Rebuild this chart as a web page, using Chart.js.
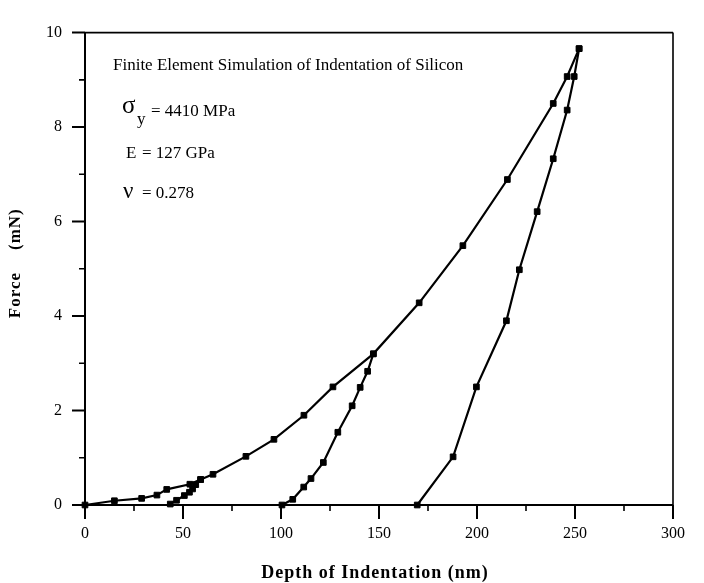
<!DOCTYPE html>
<html><head><meta charset="utf-8">
<script src="https://cdn.jsdelivr.net/npm/chart.js@4/dist/chart.umd.min.js"></script>
<style>html,body{margin:0;padding:0;background:#fff}#wrap{width:704px;height:583px;position:relative}</style>
</head><body><div id="wrap"><canvas id="c" width="704" height="583"></canvas></div>
<script>
// ---- data ----
const xMajorTicks = [0, 50, 100, 150, 200, 250, 300];
const xMinorTicks = [25, 75, 125, 175, 225, 275];
const yMajorTicks = [0, 2, 4, 6, 8, 10];
const yMinorTicks = [1, 3, 5, 7, 9];

const loadDepth = [0, 15, 28.9, 36.7, 41.7, 53.5, 59, 65.3, 82.1, 96.4, 111.7, 126.5, 147.1, 170.5, 192.8, 215.5, 238.9, 246, 252.1];
const loadForce = [0, 0.09, 0.14, 0.21, 0.33, 0.44, 0.54, 0.65, 1.03, 1.39, 1.90, 2.50, 3.20, 4.28, 5.49, 6.89, 8.50, 9.07, 9.66];

const unload1Depth = [59, 56.5, 54.9, 53.3, 50.7, 46.7, 43.5];
const unload1Force = [0.54, 0.43, 0.34, 0.27, 0.20, 0.10, 0.02];

const unload2Depth = [147.1, 144.2, 140.4, 136.3, 129, 121.6, 115.3, 111.6, 106, 100.5];
const unload2Force = [3.20, 2.83, 2.49, 2.10, 1.54, 0.90, 0.56, 0.38, 0.12, 0.0];

const unload3Depth = [252.1, 249.6, 246, 238.9, 230.7, 221.6, 215, 199.7, 187.8, 169.5];
const unload3Force = [9.66, 9.07, 8.36, 7.33, 6.21, 4.98, 3.90, 2.50, 1.02, 0.0];

const xTitle = 'Depth of Indentation (nm)';
const yTitleA = 'Force';
const yTitleB = '(mN)';
const plotNote = 'Finite Element Simulation of Indentation of Silicon';

function pts(xs, ys) { return xs.map((x, i) => ({x: x, y: ys[i]})); }

const serif = '"Liberation Serif", "Times New Roman", serif';

function series(xs, ys) {
  return {
    data: pts(xs, ys),
    showLine: true,
    borderColor: '#000',
    backgroundColor: '#000',
    borderWidth: 2.2,
    pointStyle: 'rect',
    pointRadius: 4,
    pointBorderWidth: 1,
    pointBackgroundColor: '#000',
    pointBorderColor: '#000',
    tension: 0
  };
}

const decor = {
  id: 'decor',
  afterDraw(chart) {
    const ctx = chart.ctx;
    const xs = chart.scales.x, ys = chart.scales.y;
    const a = chart.chartArea;
    ctx.save();
    ctx.strokeStyle = '#000';
    ctx.lineCap = 'butt';
    // frame
    ctx.lineWidth = 2;
    ctx.beginPath();
    ctx.moveTo(a.left, a.top); ctx.lineTo(a.left, a.bottom);
    ctx.moveTo(a.left, a.bottom); ctx.lineTo(a.right, a.bottom);
    ctx.stroke();
    ctx.lineWidth = 1.6;
    ctx.beginPath();
    ctx.moveTo(a.left, a.top); ctx.lineTo(a.right, a.top);
    ctx.moveTo(a.right, a.top); ctx.lineTo(a.right, a.bottom);
    ctx.stroke();
    // ticks
    ctx.lineWidth = 2;
    ctx.beginPath();
    xMajorTicks.forEach(v => { const p = xs.getPixelForValue(v); ctx.moveTo(p, a.bottom); ctx.lineTo(p, a.bottom + 14); });
    yMajorTicks.forEach(v => { const p = ys.getPixelForValue(v); ctx.moveTo(a.left, p); ctx.lineTo(a.left - 13, p); });
    ctx.stroke();
    ctx.lineWidth = 1.6;
    ctx.beginPath();
    xMinorTicks.forEach(v => { const p = xs.getPixelForValue(v); ctx.moveTo(p, a.bottom); ctx.lineTo(p, a.bottom + 6); });
    yMinorTicks.forEach(v => { const p = ys.getPixelForValue(v); ctx.moveTo(a.left, p); ctx.lineTo(a.left - 6, p); });
    ctx.stroke();

    ctx.fillStyle = '#000';
    // axis titles
    ctx.textBaseline = 'middle';
    ctx.textAlign = 'center';
    ctx.font = 'bold 18px ' + serif;
    if ('letterSpacing' in ctx) ctx.letterSpacing = '1px';
    ctx.fillText(xTitle, a.left + 290, 573);
    ctx.save();
    ctx.translate(16, 264);
    ctx.rotate(-Math.PI / 2);
    ctx.font = 'bold 17px ' + serif;
    ctx.textAlign = 'right';
    ctx.fillText(yTitleA, -8, 0);
    ctx.textAlign = 'left';
    ctx.fillText(yTitleB, 14, 0);
    ctx.restore();
    if ('letterSpacing' in ctx) ctx.letterSpacing = '0px';

    // annotations
    ctx.textBaseline = 'middle';
    ctx.textAlign = 'left';
    const L = a.left, T = a.top;
    ctx.font = '17px ' + serif;
    ctx.fillText(plotNote, L + 28, T + 33);
    ctx.font = '25px ' + serif;
    ctx.fillText('σ', L + 37, T + 74);
    ctx.font = '17px ' + serif;
    ctx.fillText('y', L + 52, T + 87);
    ctx.fillText('= 4410 MPa', L + 66, T + 79);
    ctx.fillText('E', L + 41, T + 121);
    ctx.fillText('= 127 GPa', L + 57, T + 121);
    ctx.font = '23px ' + serif;
    ctx.fillText('ν', L + 38, T + 159);
    ctx.font = '17px ' + serif;
    ctx.fillText('= 0.278', L + 57, T + 161);
    ctx.restore();
  }
};

new Chart(document.getElementById('c'), {
  type: 'scatter',
  data: {
    datasets: [
      series(loadDepth, loadForce),
      series(unload1Depth, unload1Force),
      series(unload2Depth, unload2Force),
      series(unload3Depth, unload3Force)
    ]
  },
  options: {
    responsive: false,
    animation: false,
    devicePixelRatio: 1,
    layout: { padding: { top: 16, right: 12, left: 0, bottom: 0 } },
    plugins: { legend: { display: false }, tooltip: { enabled: false } },
    clip: false,
    scales: {
      x: {
        type: 'linear', min: 0, max: 300,
        afterBuildTicks: s => { s.ticks = xMajorTicks.map(v => ({value: v})); },
        afterFit: s => { s.height = 78; },
        grid: { display: false, drawTicks: false },
        border: { display: false },
        ticks: { color: '#000', padding: 19, maxRotation: 0, font: { family: serif, size: 16 } },
        title: { display: false }
      },
      y: {
        type: 'linear', min: 0, max: 10,
        afterBuildTicks: s => { s.ticks = yMajorTicks.map(v => ({value: v})); },
        afterFit: s => { s.width = 85; },
        grid: { display: false, drawTicks: false },
        border: { display: false },
        ticks: { color: '#000', padding: 23, font: { family: serif, size: 16 } },
        title: { display: false }
      }
    }
  },
  plugins: [decor]
});
</script></body></html>
